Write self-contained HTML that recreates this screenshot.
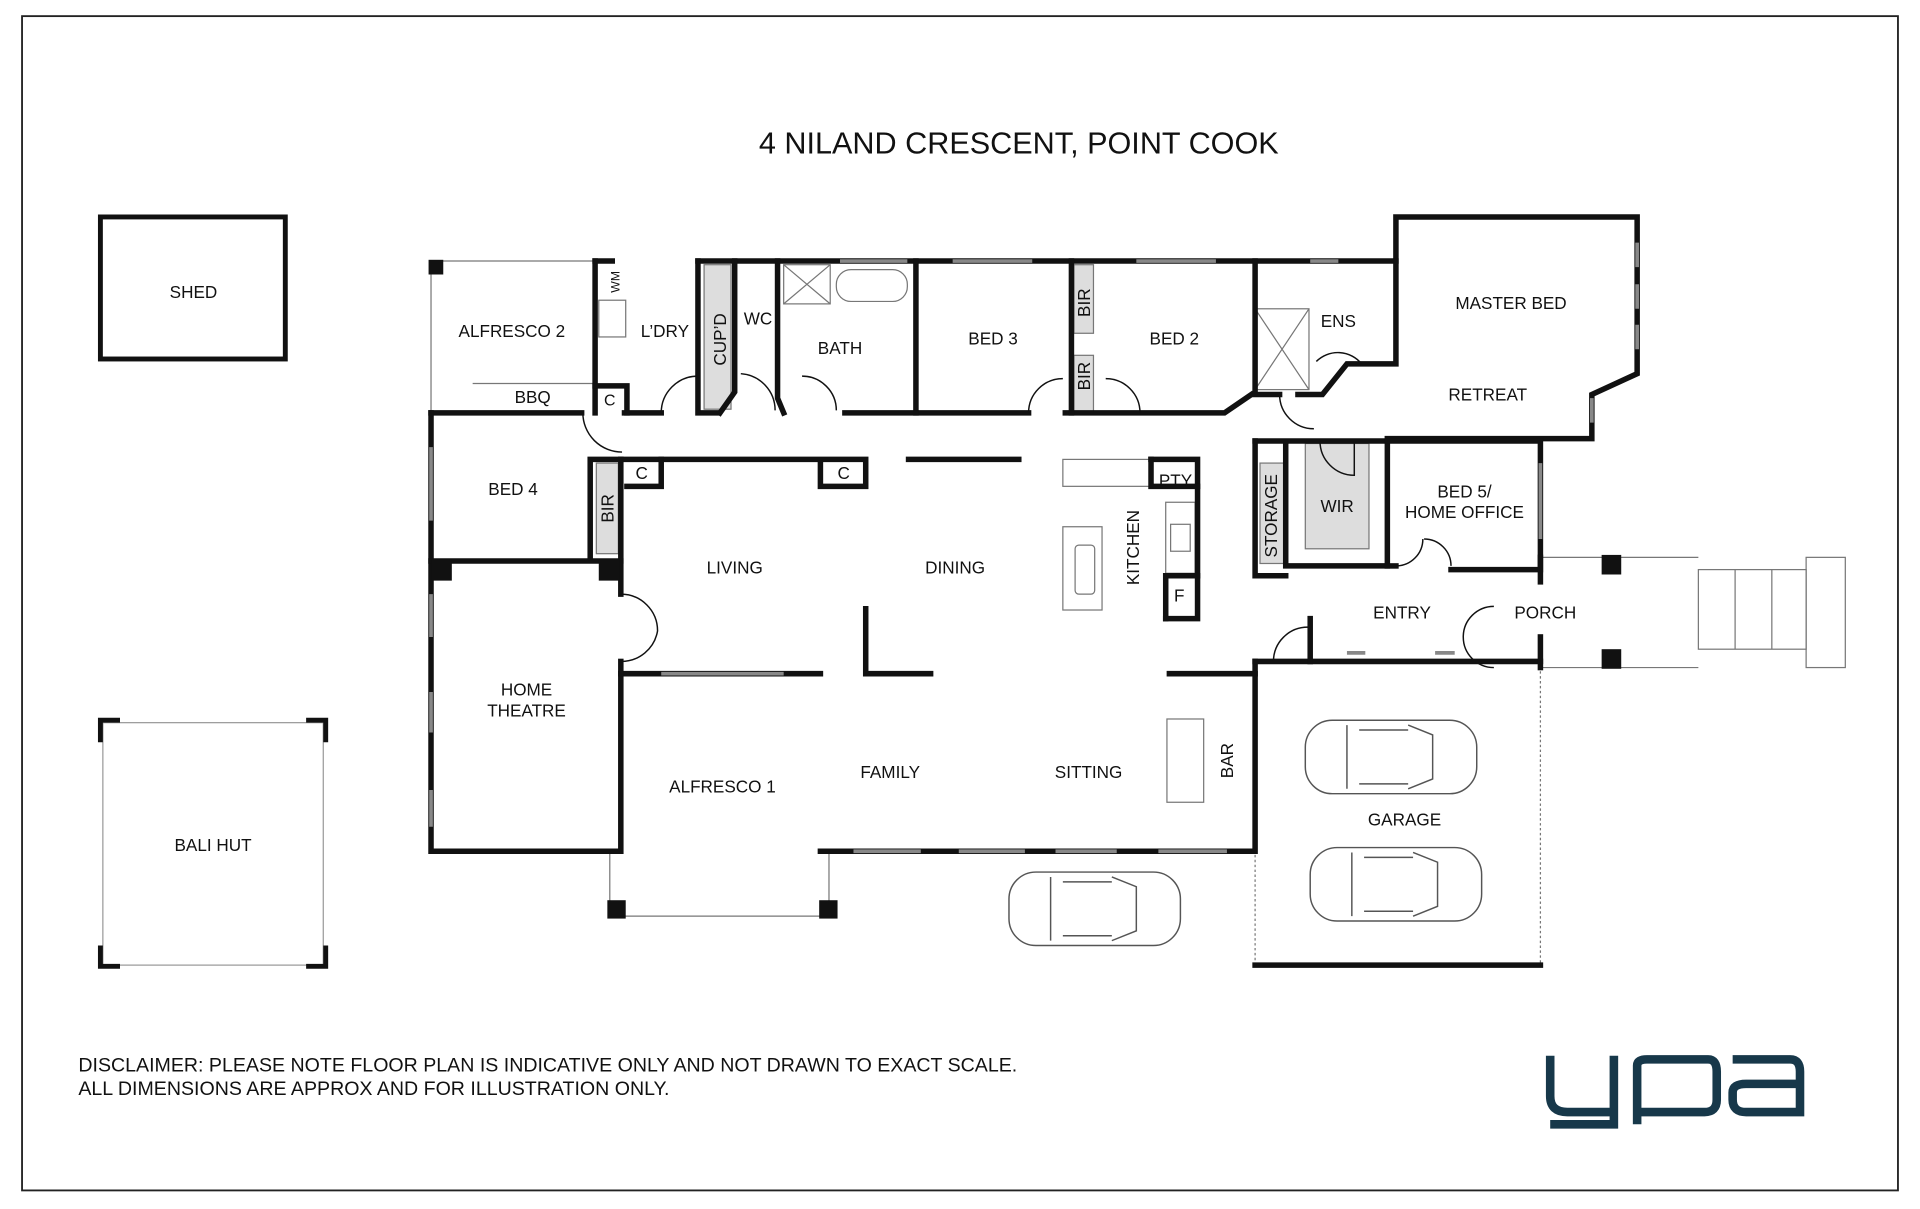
<!DOCTYPE html>
<html><head><meta charset="utf-8"><style>
html,body{margin:0;padding:0;background:#fff;}
svg{display:block}
text{font-family:"Liberation Sans","DejaVu Sans",sans-serif;fill:#111;}
</style></head><body>
<svg width="1920" height="1209" viewBox="0 0 1568 987" xmlns="http://www.w3.org/2000/svg">
<rect x="18" y="13" width="1532" height="959" fill="none" stroke="#222" stroke-width="1.5"/>
<text x="832" y="125" font-size="25" text-anchor="middle">4 NILAND CRESCENT, POINT COOK</text>

<!-- Shed -->
<rect x="82" y="177" width="151" height="116" fill="none" stroke="#111" stroke-width="4"/>
<text x="158" y="243" font-size="14" text-anchor="middle">SHED</text>
<!-- Bali hut -->
<rect x="84" y="590" width="180" height="198" fill="none" stroke="#999" stroke-width="1"/>
<g stroke="#111" stroke-width="4" fill="none">
<path d="M82 606 V588 H98"/><path d="M250 588 H266 V606"/><path d="M82 772 V789 H98"/><path d="M250 789 H266 V772"/>
</g>
<text x="174" y="695" font-size="14" text-anchor="middle">BALI HUT</text>

<!-- thin lines -->
<g stroke="#777" stroke-width="1" fill="none">
<path d="M352 213 H486"/><path d="M352 213 V337"/>
<path d="M386 313 H486 V337"/>
<path d="M498 695 V748 H677 V695"/>
<path d="M1258 455 H1387"/><path d="M1258 545 H1387"/>
<rect x="1387" y="465" width="88" height="65"/><path d="M1417 465 V530 M1447 465 V530"/>
<rect x="1475" y="455" width="32" height="90"/>
<path d="M1025 690 V788" stroke-dasharray="2 2"/><path d="M1258 540 V788" stroke-dasharray="2 2"/>
<rect x="868" y="430" width="32" height="68"/><rect x="878" y="445" width="16" height="40" rx="3"/>
<rect x="953" y="587" width="30" height="68"/>
<rect x="868" y="375" width="72" height="22"/>
<rect x="952" y="410" width="24" height="58"/>
<rect x="956" y="428" width="16" height="22"/>
<rect x="1025" y="252" width="44" height="66"/><path d="M1025 252 L1069 318 M1069 252 L1025 318"/>
<rect x="640" y="216" width="38" height="32"/><path d="M640 216 L678 248 M678 216 L640 248"/>
<rect x="683" y="220" width="58" height="26" rx="12"/>
<rect x="1066" y="362" width="52" height="86" fill="#ddd"/>
<rect x="575" y="216" width="22" height="118" fill="#ddd"/>
<rect x="487" y="378" width="18" height="74" fill="#ddd"/>
<rect x="877" y="216" width="16" height="56" fill="#ddd"/>
<rect x="877" y="290" width="16" height="46" fill="#ddd"/>
<rect x="1029" y="378" width="20" height="82" fill="#ddd"/>
<rect x="489" y="245" width="22" height="30"/>
</g>

<!-- thick walls -->
<g stroke="#111" stroke-width="4.5" fill="none" stroke-linecap="square">
<path d="M486 213 V337"/><path d="M486 213 H500"/><path d="M570 213 H1140 V177 H1337 V305 L1300 322 V358 H1133"/>
<path d="M352 337 H475"/><path d="M510 337 H540"/>
<path d="M352 337 V695 H507 V550 H670"/>
<path d="M670 695 H1025 V540"/>
<path d="M1025 540 H1258"/><path d="M1025 788 H1258"/>
<path d="M570 213 V337 H585"/><path d="M600 213 V320 L588 337"/><path d="M635 213 V325 L640 337"/>
<path d="M748 213 V337 H840"/><path d="M870 337 H1000 L1022 322"/><path d="M875 213 V337"/>
<path d="M1025 213 V322 H1045"/><path d="M1140 213 V297 H1100 L1080 322 H1060"/>
<path d="M690 337 H748"/>
<path d="M352 458 H507"/><path d="M507 375 V485"/><path d="M507 540 V550"/>
<path d="M482 375 H507 M482 375 V455"/>
<path d="M507 375 H707 V397 H670 V375"/><path d="M540 375 V397 H512"/>
<path d="M742 375 H832"/>
<path d="M940 375 H978 V505 H952"/><path d="M940 375 V397 H978"/><path d="M952 470 V505 M952 470 H978"/>
<path d="M1025 360 H1133 V462 H1050 V360"/><path d="M1025 360 V470 H1050"/>
<path d="M1133 360 H1258 V465 H1185"/><path d="M1133 462 H1140"/>
<path d="M1070 505 V540"/><path d="M707 497 V550 H760"/><path d="M955 550 H1025"/>
<path d="M1258 455 V475"/><path d="M1258 520 V545"/>
<path d="M486 315 H512 V337"/>
</g>
<!-- corner squares -->
<g fill="#111">
<rect x="350" y="212" width="12" height="12"/><rect x="352" y="457" width="17" height="17"/><rect x="489" y="457" width="17" height="17"/>
<rect x="496" y="735" width="15" height="15"/><rect x="669" y="735" width="15" height="15"/>
<rect x="1308" y="453" width="16" height="16"/><rect x="1308" y="530" width="16" height="16"/>
</g>
<!-- windows -->
<g stroke="#888" stroke-width="3" fill="none">
<path d="M352 365 V425 M352 485 V520 M352 565 V598 M352 645 V675"/>
<path d="M540 550 H640"/><path d="M697 695 H752 M783 695 H837 M862 695 H912 M946 695 H1002"/>
<path d="M686 213 H741 M778 213 H843 M928 213 H993 M1070 213 H1093"/>
<path d="M1337 198 V218 M1337 232 V252 M1337 265 V285 M1300 325 V345 M1258 378 V440"/>
<path d="M1100 533 H1115 M1172 533 H1188"/>
</g>
<!-- doors -->
<g stroke="#111" stroke-width="1.2" fill="none">
<path d="M476 337 A32 32 0 0 0 508 369"/>
<path d="M540 337 A30 30 0 0 1 570 307"/>
<path d="M605 305 A30 30 0 0 1 633 335"/>
<path d="M655 307 A28 28 0 0 1 683 335"/>
<path d="M840 337 A28 28 0 0 1 868 309"/>
<path d="M903 309 A28 28 0 0 1 931 337"/>
<path d="M1045 322 A28 28 0 0 0 1073 350"/>
<path d="M1075 295 A25 25 0 0 1 1112 297"/>
<path d="M507 485 A30 30 0 0 1 537 515 A30 30 0 0 1 507 540"/>
<path d="M1140 462 A22 22 0 0 0 1162 440 M1185 462 A22 22 0 0 0 1163 440"/>
<path d="M1040 540 A28 28 0 0 1 1068 512"/>
<path d="M1195 520 A25 25 0 0 1 1220 495 M1195 520 A25 25 0 0 0 1220 545"/>
<path d="M1078 360 A28 28 0 0 0 1106 388 V360"/>
</g>
<!-- cars -->
<g stroke="#555" stroke-width="1.2" fill="#fff">
<g><rect x="1066" y="588" width="140" height="60" rx="22"/><path d="M1100 592 V644 M1150 592 L1170 600 V636 L1150 644 M1110 596 H1150 M1110 640 H1150"/></g>
<g><rect x="1070" y="692" width="140" height="60" rx="22"/><path d="M1104 696 V748 M1154 696 L1174 704 V740 L1154 748 M1114 700 H1154 M1114 744 H1154"/></g>
<g><rect x="824" y="712" width="140" height="60" rx="22"/><path d="M858 716 V768 M908 716 L928 724 V760 L908 768 M868 720 H908 M868 764 H908"/></g>
</g>

<g font-size="14" text-anchor="middle">
<text x="418" y="275">ALFRESCO 2</text><text x="435" y="329">BBQ</text><text x="498" y="331" font-size="13">C</text>
<text x="543" y="275">L’DRY</text><text x="619" y="265">WC</text><text x="686" y="289">BATH</text>
<text x="811" y="281">BED 3</text><text x="959" y="281">BED 2</text><text x="1093" y="267">ENS</text>
<text x="1234" y="252">MASTER BED</text><text x="1215" y="327">RETREAT</text>
<text x="419" y="404">BED 4</text><text x="524" y="391">C</text><text x="689" y="391">C</text>
<text x="960" y="397">PTY</text><text x="1092" y="418">WIR</text>
<text x="1196" y="406">BED 5/</text><text x="1196" y="423">HOME OFFICE</text>
<text x="600" y="468">LIVING</text><text x="780" y="468">DINING</text><text x="963" y="491">F</text>
<text x="1145" y="505">ENTRY</text><text x="1262" y="505">PORCH</text>
<text x="430" y="568">HOME</text><text x="430" y="585">THEATRE</text>
<text x="590" y="647">ALFRESCO 1</text><text x="727" y="635">FAMILY</text><text x="889" y="635">SITTING</text>
<text x="1147" y="674">GARAGE</text>
<text transform="translate(593,277) rotate(-90)">CUP’D</text>
<text transform="translate(890,247) rotate(-90)">BIR</text>
<text transform="translate(890,307) rotate(-90)">BIR</text>
<text transform="translate(501,415) rotate(-90)">BIR</text>
<text transform="translate(930,447) rotate(-90)">KITCHEN</text>
<text transform="translate(1043,421) rotate(-90)">STORAGE</text>
<text transform="translate(1007,621) rotate(-90)">BAR</text>
<text transform="translate(506,230) rotate(-90)" font-size="10">WM</text>
</g>
<text x="64" y="875" font-size="16">DISCLAIMER: PLEASE NOTE FLOOR PLAN IS INDICATIVE ONLY AND NOT DRAWN TO EXACT SCALE.</text>
<text x="64" y="894" font-size="16">ALL DIMENSIONS ARE APPROX AND FOR ILLUSTRATION ONLY.</text>
<g stroke="#17384a" stroke-width="7" fill="none" stroke-linecap="butt">
<path d="M1266 862 V895 Q1266 908 1280 908 H1318 M1318 862 V918 H1266"/>
<path d="M1337 918 V870 Q1337 865 1345 865 H1395 Q1402 865 1402 875 V898 Q1402 908 1392 908 H1337"/>
<path d="M1415 865 H1462 Q1470 865 1470 875 V908 H1426 Q1415 908 1415 898 V892 Q1415 885 1426 885 H1470"/>
</g>
</svg>
</body></html>
